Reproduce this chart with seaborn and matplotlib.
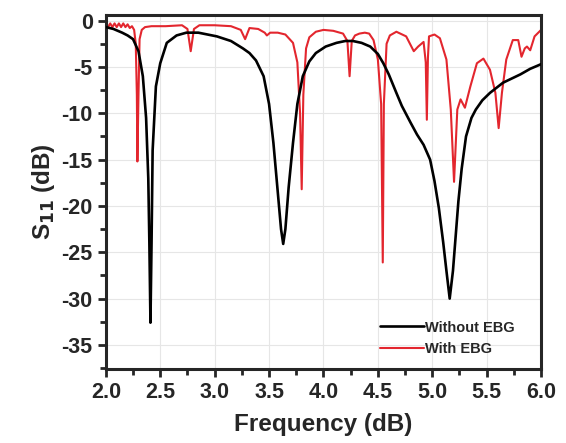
import matplotlib
matplotlib.use("Agg")
import matplotlib.pyplot as plt
import seaborn as sns
import pandas as pd
from matplotlib.ticker import MultipleLocator, FormatStrFormatter

# S11 without EBG (black)
freq_no_ebg = [2.00, 2.07, 2.15, 2.20, 2.25, 2.30, 2.34, 2.37, 2.39, 2.40, 2.41, 2.42,
               2.43, 2.46, 2.50, 2.56, 2.65, 2.74, 2.85, 3.02, 3.15, 3.26, 3.32, 3.38,
               3.45, 3.50, 3.54, 3.58, 3.61, 3.63, 3.65, 3.68, 3.72, 3.76, 3.81, 3.87,
               3.93, 4.02, 4.12, 4.20, 4.27, 4.35, 4.43, 4.50, 4.55, 4.60, 4.67, 4.72,
               4.80, 4.86, 4.92, 4.98, 5.02, 5.06, 5.10, 5.13, 5.16, 5.19, 5.21, 5.24,
               5.27, 5.31, 5.36, 5.40, 5.46, 5.53, 5.65, 5.81, 5.90, 6.00]
s11_no_ebg = [-0.7, -0.9, -1.3, -1.6, -2.0, -3.3, -6.0, -10.5, -17.0, -24.0, -32.6, -24.0,
              -14.0, -7.1, -4.6, -2.4, -1.6, -1.3, -1.3, -1.7, -2.2, -3.0, -3.5, -4.3,
              -6.0, -9.0, -13.2, -18.5, -22.5, -24.1, -22.5, -18.0, -13.2, -9.0, -6.0, -4.4,
              -3.5, -2.8, -2.4, -2.2, -2.2, -2.4, -2.8, -3.6, -4.6, -5.8, -7.8, -9.2,
              -11.0, -12.3, -13.4, -15.0, -17.3, -20.2, -23.9, -27.0, -30.0, -27.0, -24.0, -19.5,
              -16.0, -12.5, -10.5, -9.6, -8.6, -7.8, -6.7, -5.8, -5.2, -4.7]

# S11 with EBG (red)
freq_ebg = [2.000, 2.003, 2.02, 2.04, 2.06, 2.08, 2.10, 2.12, 2.14, 2.16, 2.18, 2.20,
            2.22, 2.24, 2.26, 2.275, 2.285, 2.29, 2.30, 2.31, 2.33, 2.36, 2.42, 2.55,
            2.70, 2.75, 2.78, 2.81, 2.86, 3.00, 3.15, 3.24, 3.28, 3.32, 3.40, 3.46,
            3.48, 3.51, 3.58, 3.65, 3.72, 3.76, 3.785, 3.80, 3.815, 3.84, 3.87, 3.93,
            4.00, 4.09, 4.18, 4.22, 4.24, 4.26, 4.29, 4.33, 4.38, 4.42, 4.46, 4.50,
            4.53, 4.545, 4.555, 4.58, 4.61, 4.67, 4.76, 4.83, 4.87, 4.92, 4.94, 4.95,
            4.96, 4.97, 5.02, 5.07, 5.13, 5.17, 5.20, 5.23, 5.26, 5.30, 5.35, 5.41,
            5.47, 5.53, 5.58, 5.61, 5.64, 5.68, 5.74, 5.79, 5.82, 5.85, 5.87, 5.90,
            5.94, 6.00]
s11_ebg = [-14.5, -0.5, -0.7, -0.3, -0.7, -0.3, -0.7, -0.3, -0.7, -0.3, -0.7, -0.4,
           -0.8, -0.6, -1.0, -2.5, -8.0, -15.2, -8.0, -2.0, -1.0, -0.7, -0.6, -0.6,
           -0.5, -0.9, -3.3, -0.9, -0.5, -0.5, -0.6, -1.0, -2.0, -0.8, -0.9, -1.3,
           -1.6, -1.3, -1.3, -1.5, -2.4, -4.5, -10.0, -18.2, -8.0, -3.0, -1.8, -1.2,
           -1.0, -1.1, -1.4, -2.2, -6.0, -2.2, -1.6, -1.4, -1.3, -1.4, -2.1, -4.2,
           -9.0, -26.1, -9.0, -2.5, -1.6, -1.2, -1.7, -3.3, -2.8, -2.3, -4.5, -10.7,
           -4.0, -1.7, -1.5, -1.9, -4.2, -9.6, -17.4, -9.6, -8.5, -9.4, -7.1, -4.6,
           -4.1, -5.3, -7.8, -11.6, -7.8, -4.2, -2.1, -2.1, -3.9, -3.0, -2.8, -3.2,
           -1.7, -1.0]

sns.set_style("ticks")
plt.rcParams['font.family'] = ['Liberation Sans', 'DejaVu Sans']
plt.rcParams['font.weight'] = 'bold'
plt.rcParams['mathtext.default'] = 'bf'
plt.rcParams['axes.unicode_minus'] = False

df_a = pd.DataFrame({"Frequency": freq_no_ebg, "S11": s11_no_ebg})
df_b = pd.DataFrame({"Frequency": freq_ebg, "S11": s11_ebg})

fig = plt.figure(figsize=(5.66, 4.43), dpi=100)
ax = fig.add_axes([0.187, 0.167, 0.769, 0.799])

sns.lineplot(data=df_b, x="Frequency", y="S11", ax=ax, color="#e3262e", lw=1.5,
             label="With EBG", sort=False, estimator=None, zorder=2)
sns.lineplot(data=df_a, x="Frequency", y="S11", ax=ax, color="black", lw=1.9,
             label="Without EBG", sort=False, estimator=None, zorder=3)

ax.set_xlim(2.0, 6.0)
ax.set_ylim(-37.6, 0.6)
ax.xaxis.set_major_locator(MultipleLocator(0.5))
ax.xaxis.set_minor_locator(MultipleLocator(0.25))
ax.yaxis.set_major_locator(MultipleLocator(5))
ax.yaxis.set_minor_locator(MultipleLocator(2.5))
ax.xaxis.set_major_formatter(FormatStrFormatter('%.1f'))
ax.grid(True, which='major', color='#e6e6e6', lw=0.8)

for s in ax.spines.values():
    s.set_linewidth(2.2)
ax.tick_params(which='major', direction='out', length=6, width=2, labelsize=15.5)
ax.tick_params(which='minor', direction='out', length=4, width=2)
for lab in ax.get_xticklabels() + ax.get_yticklabels():
    lab.set_fontweight('bold')

ax.set_xlabel("Frequency (dB)", fontsize=17.5, fontweight='bold', labelpad=7)
ax.set_ylabel("S$_{11}$ (dB)", fontsize=17.5, fontweight='bold', labelpad=3)

handles, labels = ax.get_legend_handles_labels()
ax.legend(handles[::-1], labels[::-1], loc='lower right', frameon=False,
          prop={'weight': 'bold', 'size': 10.5}, handlelength=3.0, handletextpad=0.1,
          labelspacing=0.5, bbox_to_anchor=(0.97, 0.0))

fig.savefig("out.png", dpi=100)
